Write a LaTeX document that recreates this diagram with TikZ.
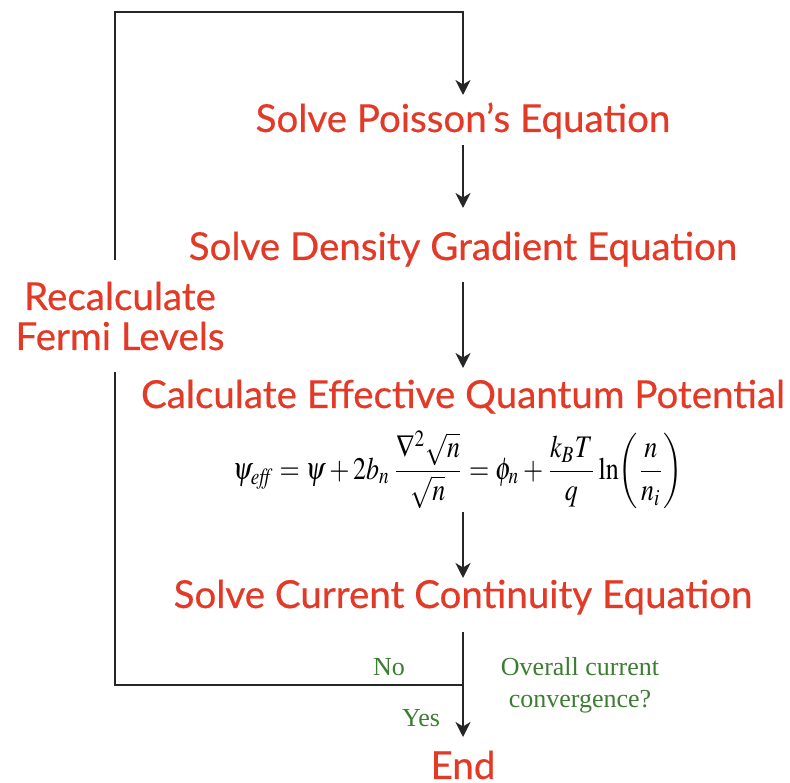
\documentclass[tikz,border=0pt]{standalone}
\usepackage{mathptmx}
\usepackage{fontspec}
\setmainfont{Liberation Serif}
\newfontfamily\headfont[FakeBold=0.5]{Lato}
\usetikzlibrary{arrows.meta,calc}
\definecolor{headred}{HTML}{E23A27}
\definecolor{labgreen}{HTML}{3C7D32}
\tikzset{
  head/.style={text=headred, font=\headfont\fontsize{38.5}{40}\selectfont, inner sep=0pt, anchor=base},
  lab/.style={text=labgreen, font=\fontsize{26}{28}\selectfont, inner sep=0pt, anchor=base},
  line/.style={line width=1.8pt, black!85},
  arr/.style={line width=1.8pt, black!85, -{Stealth[length=15pt,width=15pt,inset=4.5pt]}},
}
\begin{document}
\begin{tikzpicture}[x=1pt,y=1pt]
\useasboundingbox (0,0) rectangle (790,782);
\node[head] (poisson) at (463,650) {Solve Poisson’s Equation};
\node[head] (density) at (463,522) {Solve Density Gradient Equation};
\node[head] (calc) at (463,374) {Calculate Effective Quantum Potential};
\node[inner sep=0pt] (eq) at (458,312) {\resizebox*{450pt}{78pt}{$\displaystyle \psi_{\mathit{eff}}=\psi+2b_n\,\frac{\nabla^2\sqrt{n}}{\sqrt{n}}=\phi_n+\frac{k_BT}{q}\ln\!\left(\frac{n}{n_i}\right)$}};
\node[head] (current) at (463,174) {Solve Current Continuity Equation};
\node[head] (end) at (463,3) {End};
\node[head] (recalc1) at (120,472) {Recalculate};
\node[head] (recalc2) at (120,432) {Fermi Levels};
\node[lab] (no) at (389,106) {No};
\node[lab] (q1) at (580,106) {Overall current};
\node[lab] (q2) at (580,74) {convergence?};
\node[lab] (yes) at (421,55) {Yes};
\coordinate (tl) at (115,770);
\coordinate (tr) at (463,770);
\coordinate (bl) at (115,97);
\coordinate (br) at (463,97);
\draw[arr] ([yshift=50pt]recalc1.base -| tl) -- (tl) -- (tr) -- ([yshift=37pt]poisson.base);
\draw[arr] ([yshift=-13pt]poisson.base) -- ([yshift=52pt]density.base);
\draw[arr] ([yshift=-22pt]density.base) -- ([yshift=40pt]calc.base);
\draw[arr] ($(eq.center -| current.base)+(0,-42)$) -- ([yshift=30pt]current.base);
\draw[arr] ([yshift=-24pt]current.base) -- (br) -- ([yshift=42pt]end.base);
\draw[line] ([yshift=-22pt]recalc2.base -| bl) -- (bl) -- (br);
\end{tikzpicture}
\end{document}
